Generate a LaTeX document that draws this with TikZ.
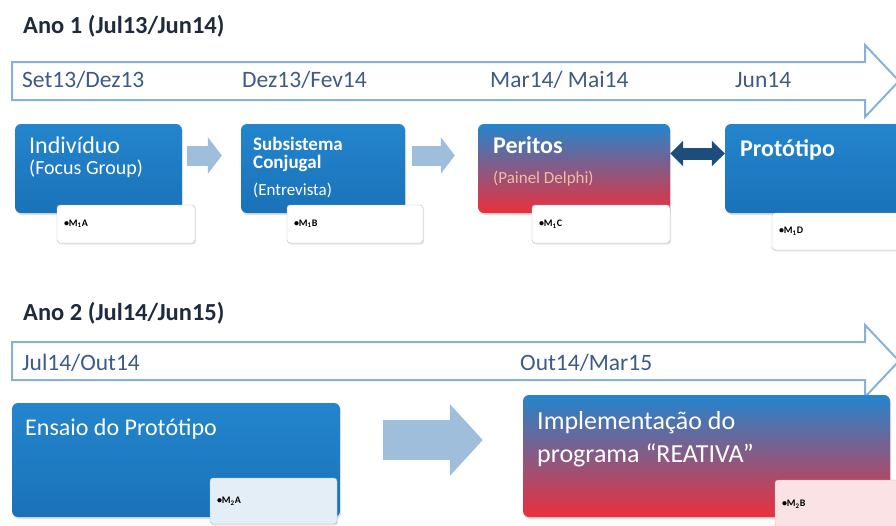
\documentclass[tikz,border=0pt]{standalone}
\usepackage{fontspec}
\setmainfont{Carlito}
\usetikzlibrary{arrows.meta, positioning, shadows}
\definecolor{phaseBlue}{HTML}{1A72B9}
\definecolor{phaseBlueTop}{HTML}{2385CD}
\definecolor{phaseRed}{HTML}{EC2F3B}
\definecolor{phaseMid}{HTML}{A24F86}
\definecolor{lineBlue}{HTML}{86B2DA}
\definecolor{dateText}{HTML}{3D5B86}
\definecolor{headText}{HTML}{1E2B3E}
\definecolor{stepArrow}{HTML}{9FBEDC}
\definecolor{linkDark}{HTML}{1D4E7B}
\definecolor{noteBlue}{HTML}{E4EEF6}
\definecolor{notePink}{HTML}{FBE2E4}
\definecolor{delphiText}{HTML}{F4BBA4}

\begin{document}
\begin{tikzpicture}[
    x=1pt, y=-1pt,
    yearhead/.style={anchor=base west, inner sep=0pt, text=headText,
                     font=\fontsize{24.5}{28}\selectfont\bfseries},
    datelabel/.style={anchor=base west, inner sep=0pt, text=dateText,
                      font=\fontsize{23.5}{27}\selectfont},
    timeline/.style={draw=lineBlue, line width=2pt, fill=white},
    phase/.style={rounded corners=6pt, top color=phaseBlueTop,
                  bottom color=phaseBlue,
                  drop shadow={opacity=0.25, shadow xshift=1pt, shadow yshift=-2pt}},
    phasemix/.style={phase, top color=phaseBlueTop, middle color=phaseMid,
                     bottom color=phaseRed},
    title/.style={anchor=base west, inner sep=0pt, text=white,
                  font=\fontsize{24}{28}\selectfont},
    subtitle/.style={anchor=base west, inner sep=0pt, text=white,
                     font=\fontsize{20}{22}\selectfont},
    note/.style={draw=gray!55, fill=white, rounded corners=3pt, inner sep=7pt,
                 text width=#1, minimum height=38pt, align=left,
                 font=\fontsize{10}{11}\selectfont\bfseries,
                 drop shadow={opacity=0.2, shadow xshift=1pt, shadow yshift=-1.5pt}},
    chevron/.style={draw=stepArrow, line width=20pt,
                    -{Triangle[width=36pt, length=14pt]}},
    bigchevron/.style={draw=stepArrow, line width=40pt,
                       -{Triangle[width=70pt, length=33pt]}},
    link/.style={draw=linkDark, line width=12pt,
                 {Triangle[width=25pt, length=13pt]}-{Triangle[width=25pt, length=13pt]}},
]
\useasboundingbox (0,0) rectangle (896,525);

% Ano 1
\node[yearhead] (ano1) at (23,33) {Ano 1 (Jul13/Jun14)};
\draw[timeline] (12,62) -- (865,62) -- (865,45) -- (899,81) -- (865,117)
    -- (865,100) -- (12,100) -- cycle;
\node[datelabel] (d1) at (22,87) {Set13/Dez13};
\node[datelabel] (d2) at (242,87) {Dez13/Fev14};
\node[datelabel] (d3) at (490,87) {Mar14/ Mai14};
\node[datelabel] (d4) at (735,87) {Jun14};

% Phase boxes
\node[phase, minimum width=167pt, minimum height=89pt] (indiv) at (98.5,168.5) {};
\node[phase, minimum width=164pt, minimum height=89pt] (subsis) at (323,168.5) {};
\node[phasemix, minimum width=192pt, minimum height=89pt] (peritos) at (574,168.5) {};
\node[phase, minimum width=190pt, minimum height=89pt] (proto) at (820,168.5) {};

\node[title] (indivT) at (29,153) {Indivíduo};
\node[subtitle] (indivS) at (29,174) {(Focus Group)};
\node[subtitle, font=\fontsize{19}{18}\selectfont\bfseries, align=left,
      anchor=north west] (subsisT) at (253,137) {Subsistema\\Conjugal};
\node[subtitle, font=\fontsize{17}{19}\selectfont] (subsisS) at (253,195) {(Entrevista)};
\node[title, font=\fontsize{24}{28}\selectfont\bfseries] (peritosT) at (493,153) {Peritos};
\node[subtitle, text=delphiText, font=\fontsize{17}{19}\selectfont] (peritosS) at (493,183) {(Painel Delphi)};
\node[title, font=\fontsize{24}{28}\selectfont\bfseries] (protoT) at (740,156) {Protótipo};

% Notes
\node[note=124pt] (n1) at (126,224) {\textbullet M\textsubscript{1}A};
\node[note=122pt] (n2) at (355,224) {\textbullet M\textsubscript{1}B};
\node[note=124pt] (n3) at (601,224) {\textbullet M\textsubscript{1}C};
\node[note=124pt, minimum height=37pt] (n4) at (841,231.5) {\textbullet M\textsubscript{1}D};

% Arrows
\draw[chevron] ([xshift=5pt, yshift=13pt]indiv.east) -- ([xshift=-19pt, yshift=13pt]subsis.west);
\draw[chevron] ([xshift=7pt, yshift=13pt]subsis.east) -- ([xshift=-23pt, yshift=13pt]peritos.west);
\draw[link] ([yshift=15pt]peritos.east) -- ([yshift=15pt]proto.west);

% Ano 2
\node[yearhead] (ano2) at (23,320) {Ano 2 (Jul14/Jun15)};
\draw[timeline] (12,342) -- (865,342) -- (865,325) -- (899,361) -- (865,397)
    -- (865,380) -- (12,380) -- cycle;
\node[datelabel] (d5) at (22,370) {Jul14/Out14};
\node[datelabel] (d6) at (520,370) {Out14/Mar15};

\node[phase, minimum width=328pt, minimum height=114pt] (ensaio) at (176,460) {};
\node[phasemix, minimum width=367pt, minimum height=122pt] (impl) at (706.5,456) {};

\node[title] (ensaioT) at (25,435) {Ensaio do Protótipo};
\node[title, align=left, anchor=north west, font=\fontsize{26}{33}\selectfont]
    (implT) at (537,411) {Implementação do\\programa “REATIVA”};

\node[note=113pt, fill=noteBlue, minimum height=46pt] (n5) at (273.5,501) {\textbullet M\textsubscript{2}A};
\node[note=126pt, fill=notePink, minimum height=48pt] (n6) at (845,504) {\textbullet M\textsubscript{2}B};

\draw[bigchevron] ([xshift=43pt, yshift=20pt]ensaio.east) -- ([xshift=-40pt, yshift=16pt]impl.west);
\end{tikzpicture}
\end{document}
